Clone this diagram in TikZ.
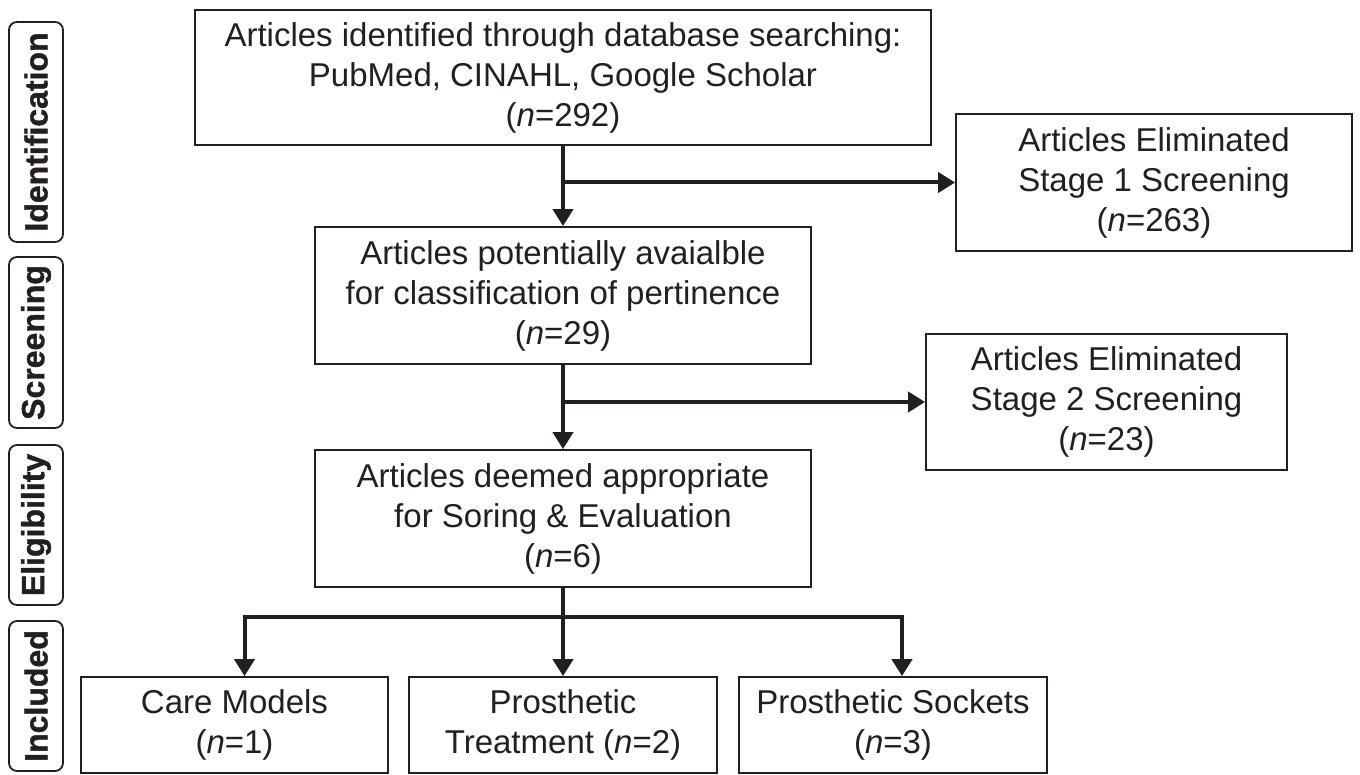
\documentclass[tikz,border=0pt]{standalone}
\usepackage{fontspec}
\setmainfont{Liberation Sans}
\newfontfamily\stagefont{Liberation Sans}[BoldFeatures={FakeBold=1.2}]
\usetikzlibrary{arrows.meta}
\definecolor{flowink}{HTML}{231F20}

\begin{document}
\begin{tikzpicture}[
  x=1pt,
  y=-1pt,
  box/.style={draw=flowink,line width=1.8pt,text=flowink,align=center,inner sep=0pt,
    font=\fontsize{33}{40}\selectfont},
  stage/.style={draw=flowink,line width=1.8pt,rounded corners=8pt,rotate=90,inner sep=0pt,
    minimum height=54pt,text=flowink,font=\stagefont\fontsize{32}{32}\selectfont\bfseries},
  flow/.style={draw=flowink,line width=4pt,-{Triangle[length=17pt,width=20pt]}},
  link/.style={draw=flowink,line width=4pt}
]
  \useasboundingbox (0,0) rectangle (1360,775);

  % Stage labels down the left margin.
  \node[stage,minimum width=220pt] (sIdent) at (36,132) {Identification};
  \node[stage,minimum width=171pt] (sScreen) at (36,342.5) {Screening};
  \node[stage,minimum width=160pt] (sElig) at (36,525) {Eligibility};
  \node[stage,minimum width=150pt] (sIncl) at (36,696) {Included};

  % Main column.
  \node[box,minimum width=736pt,minimum height=135pt] (ident) at (563,77.5)
    {Articles identified through database searching:\\PubMed, CINAHL, Google Scholar\\(\textit{n}=292)};
  \node[box,minimum width=496pt,minimum height=137pt] (avail) at (563,295.5)
    {Articles potentially avaialble\\for classification of pertinence\\(\textit{n}=29)};
  \node[box,minimum width=496pt,minimum height=137pt] (deemed) at (563,518.5)
    {Articles deemed appropriate\\for Soring \& Evaluation\\(\textit{n}=6)};

  % Eliminated articles.
  \node[box,minimum width=396pt,minimum height=137pt] (elimA) at (1154,182.5)
    {Articles Eliminated\\Stage 1 Screening\\(\textit{n}=263)};
  \node[box,minimum width=361pt,minimum height=136pt] (elimB) at (1106.5,402)
    {Articles Eliminated\\Stage 2 Screening\\(\textit{n}=23)};

  % Included categories.
  \node[box,minimum width=307pt,minimum height=96pt] (care) at (234.5,725)
    {Care Models\\(\textit{n}=1)};
  \node[box,minimum width=308pt,minimum height=96pt] (treat) at (563,725)
    {Prosthetic\\Treatment (\textit{n}=2)};
  \node[box,minimum width=308pt,minimum height=96pt] (socket) at (893,725)
    {Prosthetic Sockets\\(\textit{n}=3)};

  % Junctions.
  \coordinate (jA) at (ident.south |- elimA.west);
  \coordinate (jB) at (avail.south |- elimB.west);
  \coordinate (jC) at (563,617);
  \coordinate (inL) at ([xshift=10pt]care.north);
  \coordinate (inR) at ([xshift=9pt]socket.north);

  % Connectors.
  \draw[flow] (ident.south) -- (avail.north);
  \draw[flow] (jA) -- (elimA.west);
  \draw[flow] (avail.south) -- (deemed.north);
  \draw[flow] (jB) -- (elimB.west);
  \draw[flow] (deemed.south) -- (treat.north);
  \draw[flow] (jC) -| (inL);
  \draw[flow] (jC) -| (inR);
\end{tikzpicture}
\end{document}
